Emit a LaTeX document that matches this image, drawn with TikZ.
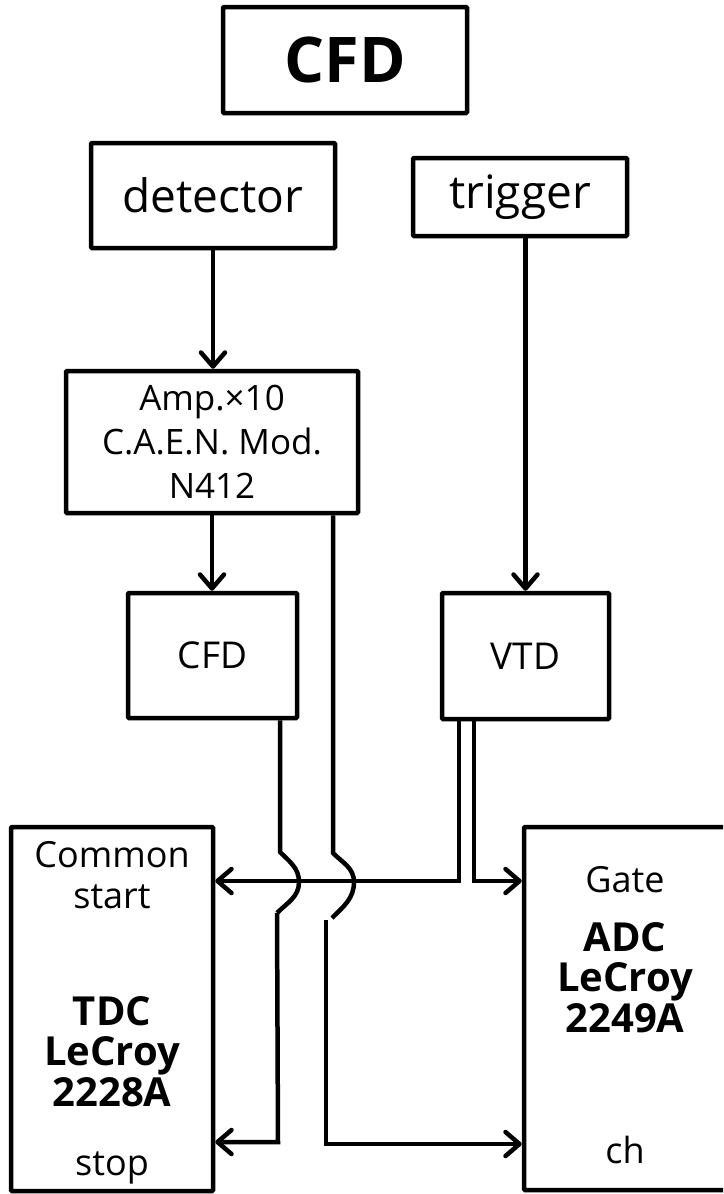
\documentclass[tikz,border=0pt]{standalone}
\usepackage{fontspec}
\setmainfont{Open Sans}
\usetikzlibrary{arrows.meta,calc}
\begin{document}
\begin{tikzpicture}[x=1pt,y=-1pt,
  box/.style={draw,line width=4.5pt,rounded corners=1pt,inner sep=0pt,align=center},
  wire/.style={line width=4.5pt},
  arr/.style={wire,-{Straight Barb[length=14pt,width=24pt,round]}},
  lbl/.style={anchor=base,inner sep=0pt},
  reg/.style={font=\fontsize{36}{40}\selectfont},
  bld/.style={font=\fontsize{40}{44}\selectfont\bfseries},
]
\useasboundingbox (0,0) rectangle (723,1194);
\begin{scope}
\clip (0,0) rectangle (723,1194);
% boxes
\node[box,minimum width=244pt,minimum height=106pt,font=\fontsize{63}{66}\selectfont\bfseries] (title) at (345,60) {CFD};
\node[box,minimum width=244pt,minimum height=105pt,font=\fontsize{46}{50}\selectfont] (det) at (213,195.5) {detector};
\node[box,minimum width=214pt,minimum height=78pt,font=\fontsize{46}{50}\selectfont] (trig) at (520,197) {trigger};
\node[box,minimum width=292pt,minimum height=142pt,font=\fontsize{35}{44}\selectfont] (amp) at (212,442) {Amp.×10\\C.A.E.N. Mod.\\N412};
\node[box,minimum width=169pt,minimum height=125pt,font=\fontsize{37}{40}\selectfont] (cfd) at (212.5,655.5) {CFD};
\node[box,minimum width=167pt,minimum height=126pt,font=\fontsize{37}{40}\selectfont] (vtd) at (525.5,656) {VTD};
\node[box,minimum width=202pt,minimum height=364pt] (tdc) at (112,1009) {};
\node[box,minimum width=202pt,minimum height=363pt] (adc) at (625,1008.5) {};
% TDC labels
\node[lbl,reg] (t1) at (112,867) {Common};
\node[lbl,reg] (t2) at (112,908) {start};
\node[lbl,bld] (t3) at (112,1025) {TDC};
\node[lbl,bld] (t4) at (112,1065) {LeCroy};
\node[lbl,bld] (t5) at (112,1106) {2228A};
\node[lbl,reg] (t6) at (112,1175) {stop};
% ADC labels
\node[lbl,reg] (a1) at (625,892) {Gate};
\node[lbl,bld] (a2) at (625,951) {ADC};
\node[lbl,bld] (a3) at (625,991) {LeCroy};
\node[lbl,bld] (a4) at (625,1032) {2249A};
\node[lbl,reg] (a5) at (625,1163) {ch};
% helper coordinates
\coordinate (h1) at (280,852);
\coordinate (h1e) at (277,913);
\coordinate (h2) at (333,853);
\coordinate (h2e) at (332,918);
\coordinate (l2) at (326,920);
\coordinate (v1) at (459,719);
\coordinate (v2) at (474,719);
% straight arrows
\draw[arr] (det.south) -- (det.south |- amp.north);
\draw[arr] (amp.south) -- (amp.south |- cfd.north);
\draw[arr] (trig.south -| vtd.north) -- (vtd.north);
% CFD -> stop with hop
\draw[wire] (h1 |- cfd.south) -- (h1) to[out=-45,in=90] (299,882) to[out=-90,in=45] (h1e);
\draw[arr] (h1e) -- (278,1142) -- (tdc.east |- 0,1142);
% Amp -> ch with hop
\draw[wire] (h2 |- amp.south) -- (h2) to[out=-45,in=90] (354,882) to[out=-90,in=45] (h2e);
\draw[arr] (l2) -- (326,1144) -- (adc.west |- 0,1144);
% VTD -> common start and gate
\draw[arr] (v1) -- (459,881) -- (tdc.east |- 0,881);
\draw[arr] (v2) -- (474,881) -- (adc.west |- 0,881);
\end{scope}
\end{tikzpicture}
\end{document}
